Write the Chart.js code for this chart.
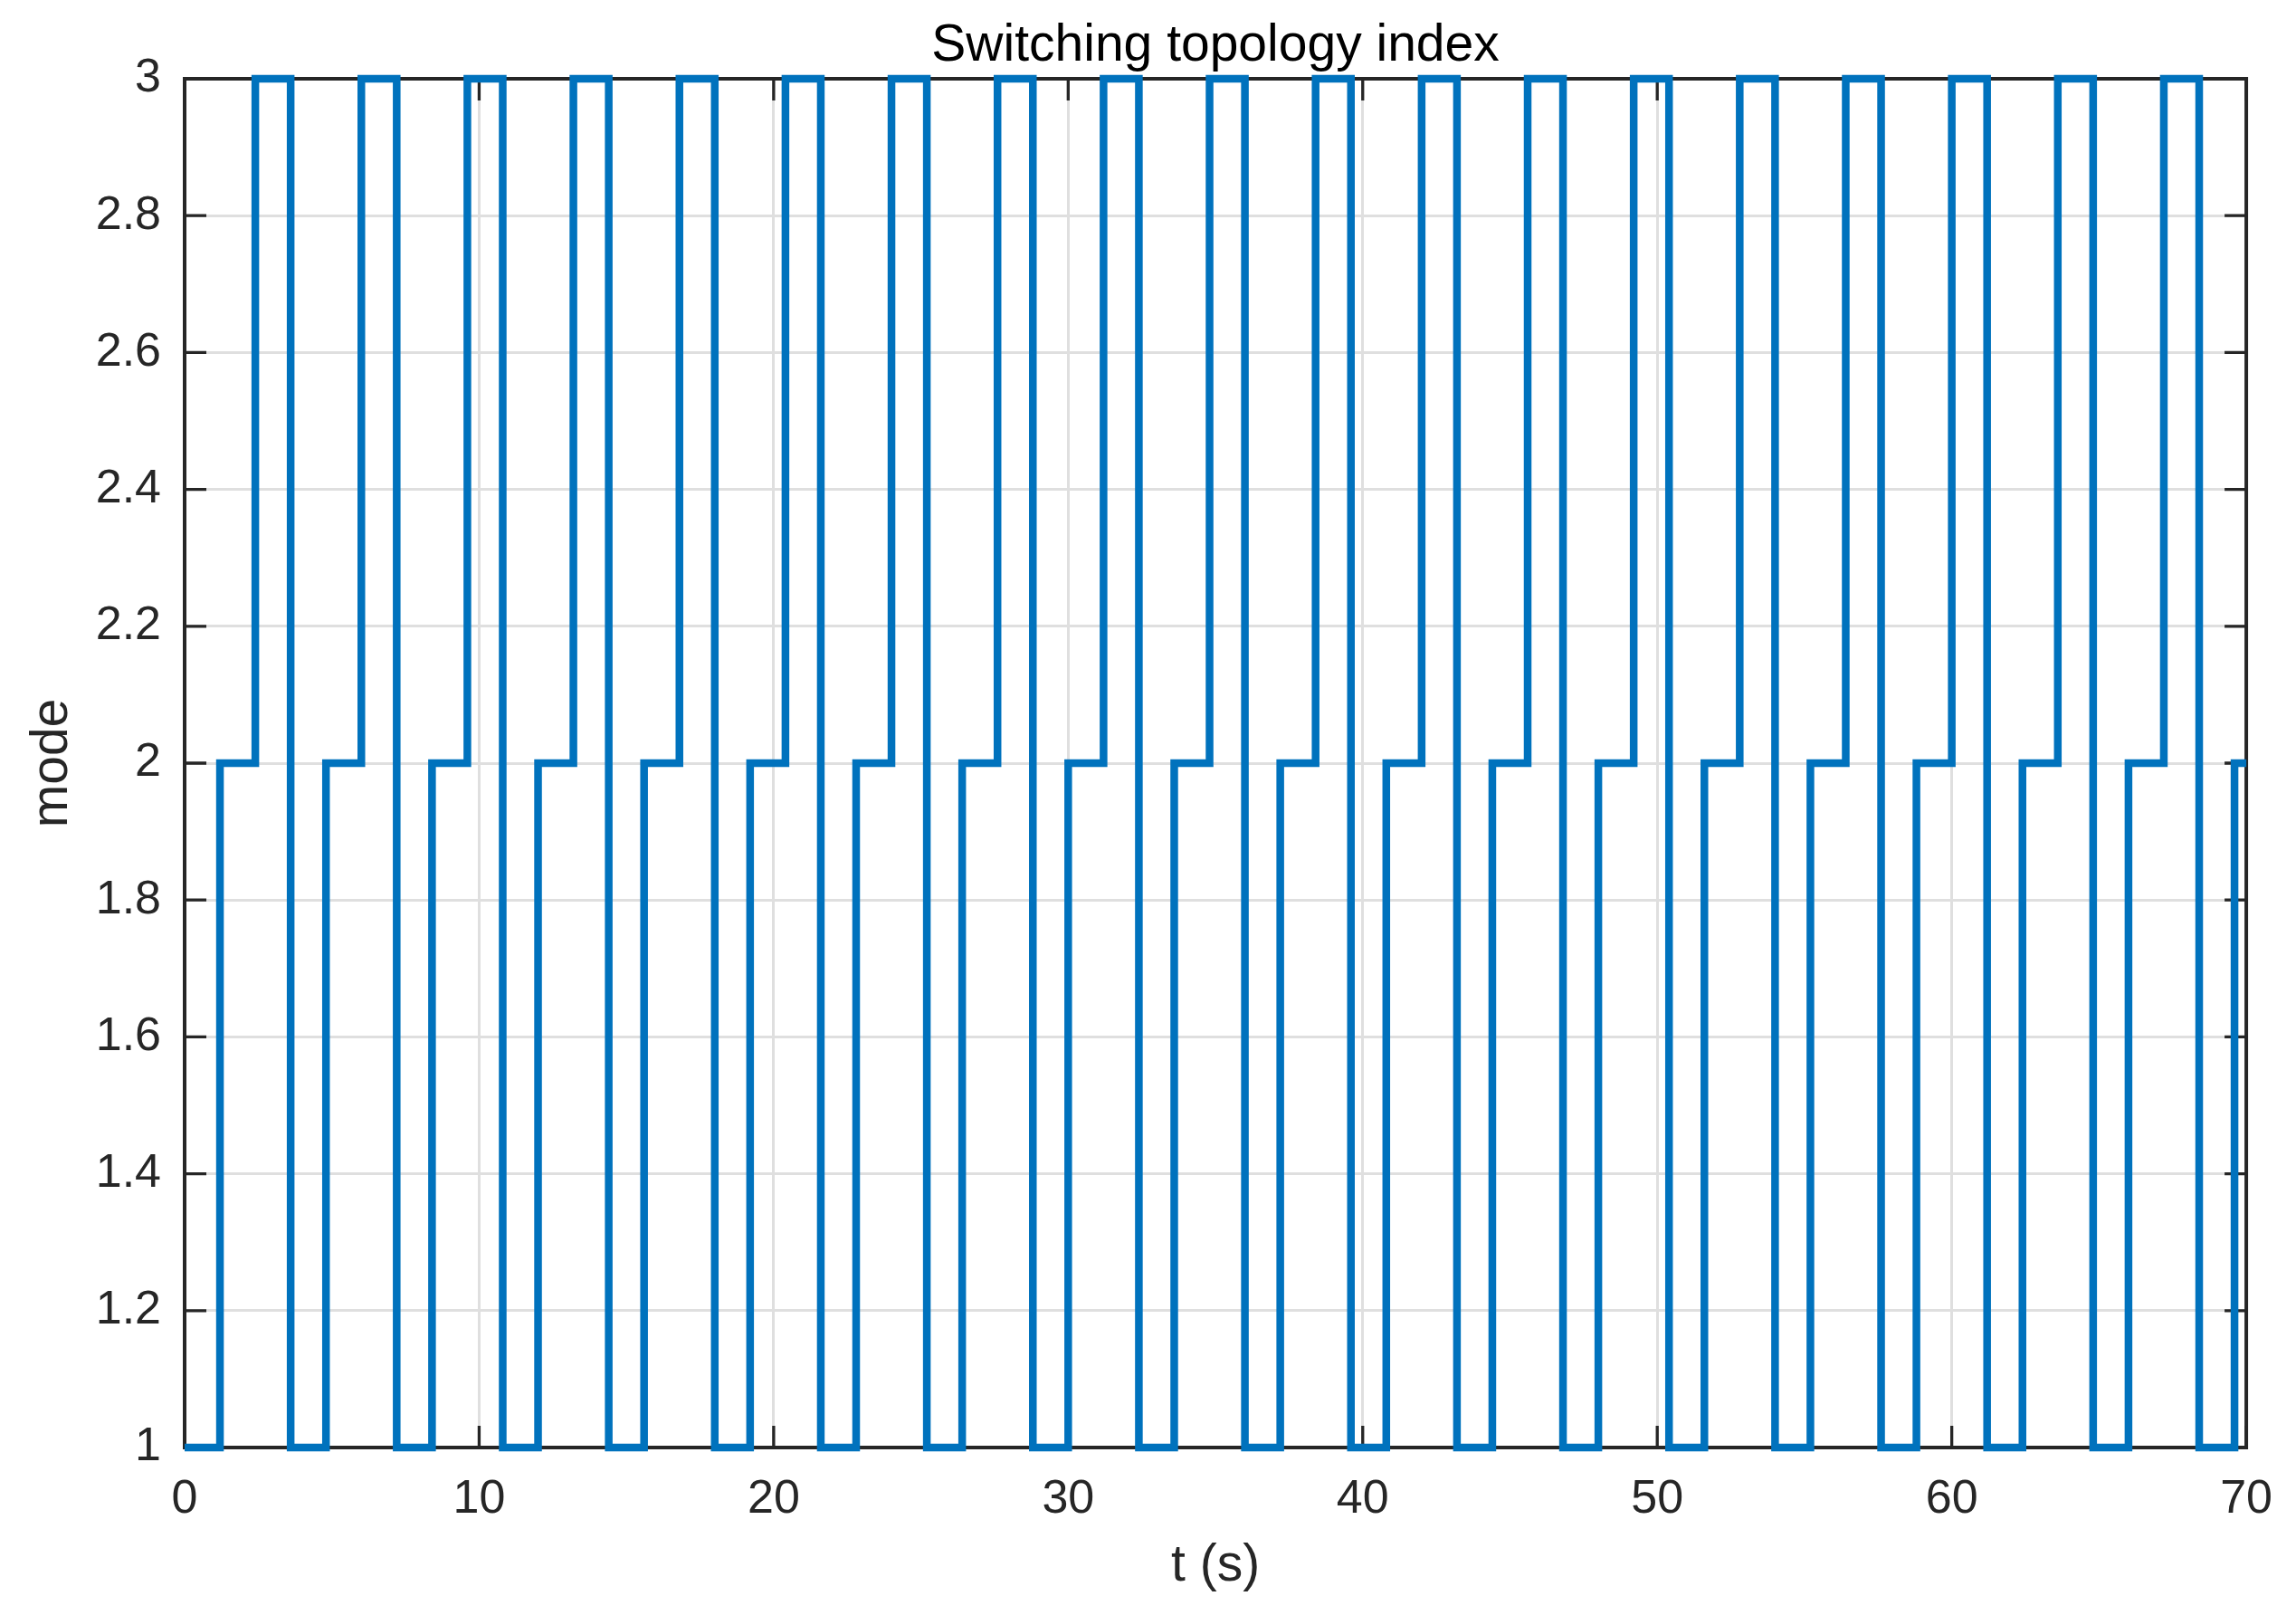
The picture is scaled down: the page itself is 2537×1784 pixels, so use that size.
<!DOCTYPE html>
<html>
<head>
<meta charset="utf-8">
<script src="https://cdn.jsdelivr.net/npm/chart.js@4/dist/chart.umd.min.js"></script>
<style>
  html, body { margin: 0; padding: 0; background: #ffffff; }
  #wrap { width: 2537px; height: 1784px; }
</style>
</head>
<body>
<div id="wrap"><canvas id="c" width="2537" height="1784"></canvas></div>
<script>
// ---- data ----
const chartTitle = 'Switching topology index';
const xAxisLabel = 't (s)';
const yAxisLabel = 'mode';

// switching instants (s) and the mode that starts at each instant
const switchTimes = [0, 1.2, 2.4, 3.6, 4.8, 6, 7.2, 8.4, 9.6, 10.8,
  12, 13.2, 14.4, 15.6, 16.8, 18, 19.2, 20.4, 21.6, 22.8,
  24, 25.2, 26.4, 27.6, 28.8, 30, 31.2, 32.4, 33.6, 34.8,
  36, 37.2, 38.4, 39.6, 40.8, 42, 43.2, 44.4, 45.6, 46.8,
  48, 49.2, 50.4, 51.6, 52.8, 54, 55.2, 56.4, 57.6, 58.8,
  60, 61.2, 62.4, 63.6, 64.8, 66, 67.2, 68.4, 69.6, 70];
const modes = [1, 2, 3, 1, 2, 3, 1, 2, 3, 1,
  2, 3, 1, 2, 3, 1, 2, 3, 1, 2,
  3, 1, 2, 3, 1, 2, 3, 1, 2, 3,
  1, 2, 3, 1, 2, 3, 1, 2, 3, 1,
  2, 3, 1, 2, 3, 1, 2, 3, 1, 2,
  3, 1, 2, 3, 1, 2, 3, 1, 2, 2];

const xTicks = [0, 10, 20, 30, 40, 50, 60, 70];
const xTickLabels = ['0', '10', '20', '30', '40', '50', '60', '70'];
const yTicks = [1, 1.2, 1.4, 1.6, 1.8, 2, 2.2, 2.4, 2.6, 2.8, 3];
const yTickLabels = ['1', '1.2', '1.4', '1.6', '1.8', '2', '2.2', '2.4', '2.6', '2.8', '3'];

// ---- styles ----
const FONT = "'Liberation Sans', Arial, Helvetica, sans-serif";
const AXIS_COLOR = '#262626';
const GRID_COLOR = '#dfdfdf';
const LINE_COLOR = '#0072BD';

const boxAndTicks = {
  id: 'boxAndTicks',
  beforeDatasetsDraw(chart) {
    const {ctx, chartArea: a, scales: {x, y}} = chart;
    const tl = 24;
    ctx.save();
    ctx.strokeStyle = AXIS_COLOR;
    ctx.lineCap = 'butt';
    ctx.lineWidth = 3.3;
    ctx.beginPath();
    xTicks.forEach(v => {
      const px = x.getPixelForValue(v);
      ctx.moveTo(px, a.bottom); ctx.lineTo(px, a.bottom - tl);
      ctx.moveTo(px, a.top); ctx.lineTo(px, a.top + tl);
    });
    yTicks.forEach(v => {
      const py = y.getPixelForValue(v);
      ctx.moveTo(a.left, py); ctx.lineTo(a.left + tl, py);
      ctx.moveTo(a.right, py); ctx.lineTo(a.right - tl, py);
    });
    ctx.stroke();
    ctx.lineWidth = 4;
    ctx.lineJoin = 'miter';
    ctx.strokeRect(a.left, a.top, a.right - a.left, a.bottom - a.top);
    ctx.restore();
  }
};

new Chart(document.getElementById('c'), {
  type: 'line',
  data: {
    datasets: [{
      data: switchTimes.map((t, i) => ({x: t, y: modes[i]})),
      stepped: 'before',
      borderColor: LINE_COLOR,
      backgroundColor: LINE_COLOR,
      borderWidth: 8.5,
      borderJoinStyle: 'miter',
      borderCapStyle: 'butt',
      pointRadius: 0,
      fill: false,
      clip: false
    }]
  },
  options: {
    responsive: false,
    animation: false,
    layout: { padding: { left: 0, right: 51, top: 0, bottom: 0 } },
    plugins: {
      legend: { display: false },
      tooltip: { enabled: false },
      title: {
        display: true,
        text: chartTitle,
        fullSize: false,
        color: '#000000',
        font: { family: FONT, size: 57, weight: 'normal', lineHeight: 1.2 },
        padding: { top: 17, bottom: 1.6 }
      }
    },
    scales: {
      x: {
        type: 'linear',
        min: 0, max: 70,
        afterFit(s) { s.height = 185; },
        afterBuildTicks(s) { s.ticks = xTicks.map(v => ({value: v})); },
        ticks: {
          autoSkip: false,
          maxRotation: 0,
          padding: 26,
          color: AXIS_COLOR,
          font: { family: FONT, size: 52, lineHeight: 1.2 },
          callback(v) { const i = xTicks.indexOf(v); return i >= 0 ? xTickLabels[i] : ''; }
        },
        grid: { color: GRID_COLOR, lineWidth: 3, drawTicks: false },
        border: { display: false },
        title: {
          display: true, text: xAxisLabel, color: AXIS_COLOR,
          font: { family: FONT, size: 57, lineHeight: 1.2 },
          padding: { top: 0, bottom: 20 }
        }
      },
      y: {
        type: 'linear',
        min: 1, max: 3,
        afterFit(s) { s.width = 204; },
        afterBuildTicks(s) { s.ticks = yTicks.map(v => ({value: v})); },
        ticks: {
          autoSkip: false,
          padding: 26,
          color: AXIS_COLOR,
          font: { family: FONT, size: 52, lineHeight: 1.2 },
          callback(v) {
            const i = yTicks.findIndex(t => Math.abs(t - v) < 1e-9);
            return i >= 0 ? yTickLabels[i] : '';
          }
        },
        grid: { color: GRID_COLOR, lineWidth: 3, drawTicks: false },
        border: { display: false },
        title: {
          display: true, text: yAxisLabel, color: AXIS_COLOR,
          font: { family: FONT, size: 57, lineHeight: 1.2 },
          padding: { top: 24, bottom: 0 }
        }
      }
    }
  },
  plugins: [boxAndTicks]
});
</script>
</body>
</html>
